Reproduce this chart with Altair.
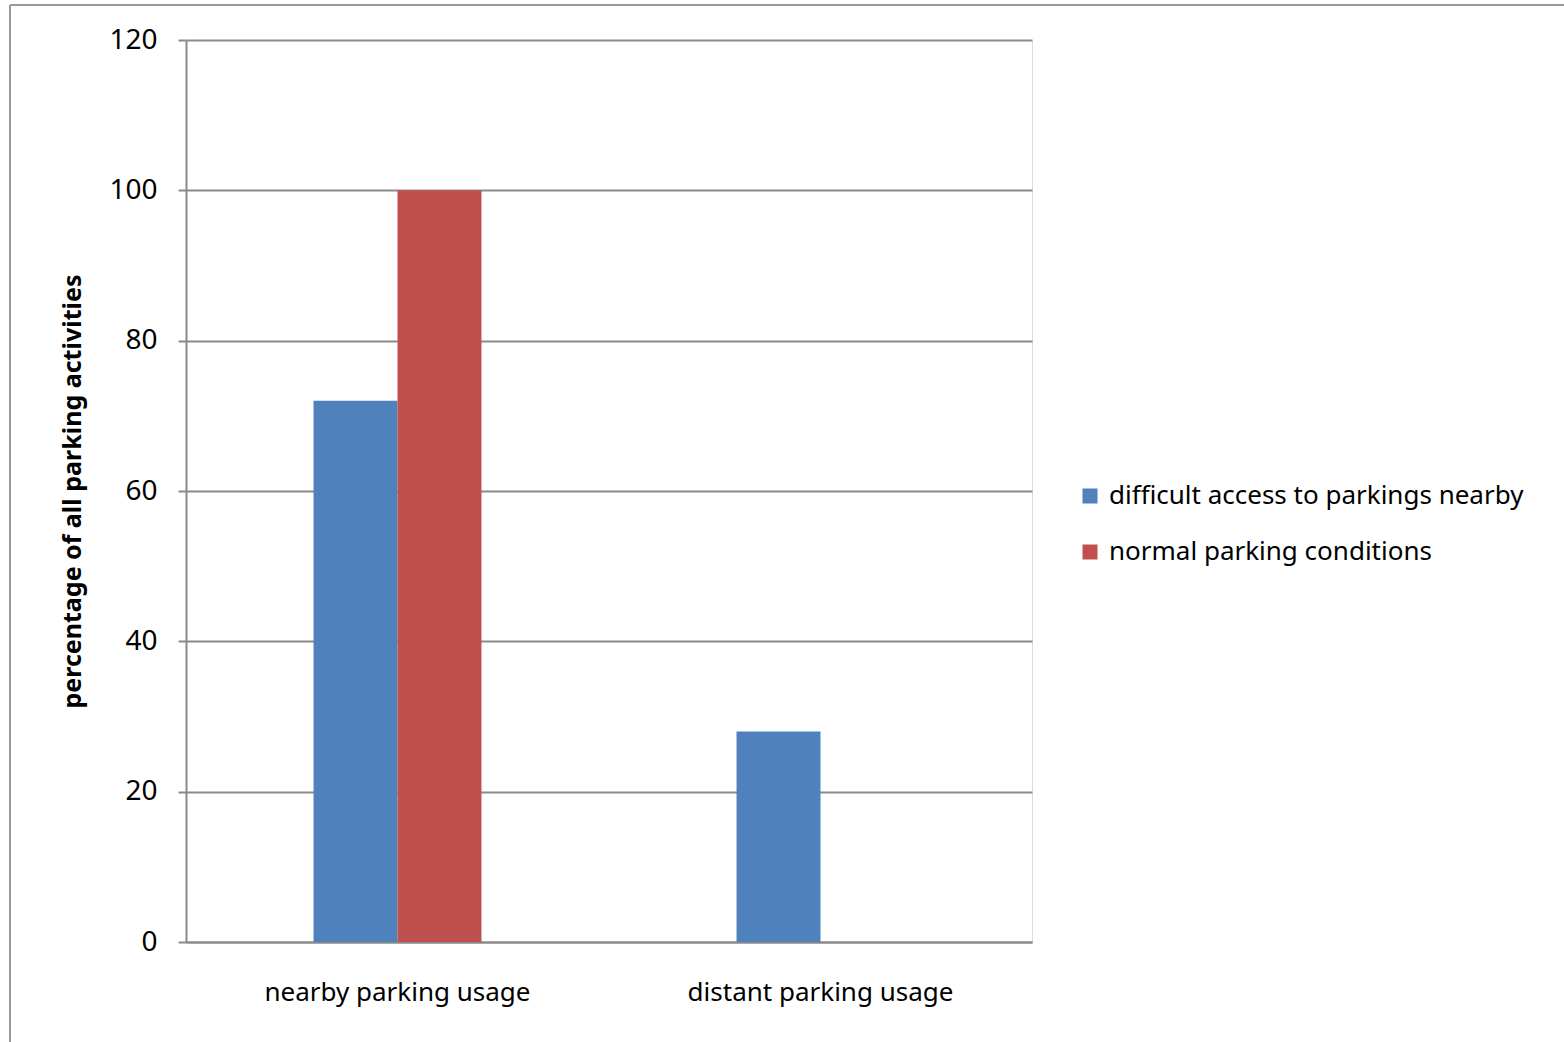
import altair as alt
import pandas as pd

categories = ["nearby parking usage", "distant parking usage"]
series = ["difficult access to parkings nearby", "normal parking conditions"]
difficult_values = [72, 28]
normal_values = [100, 0]
y_ticks = [0, 20, 40, 60, 80, 100, 120]
colors = ["#4F81BD", "#C0504D"]

rows = []
for c, v in zip(categories, difficult_values):
    rows.append({"category": c, "series": series[0], "value": v})
for c, v in zip(categories, normal_values):
    rows.append({"category": c, "series": series[1], "value": v})
df = pd.DataFrame(rows)

FONT = "Noto Sans"
GRID = "#8a8a8a"

bars = alt.Chart(df).mark_bar().encode(
    x=alt.X("category:N", sort=categories,
            scale=alt.Scale(paddingInner=0.603, paddingOuter=0.3015),
            axis=alt.Axis(title=None, labelAngle=0, ticks=False, tickSize=0,
                          labelPadding=37, labelFontSize=26, labelFont=FONT,
                          labelLimit=500, labelColor="#000",
                          domainColor=GRID, domainWidth=2, grid=False)),
    xOffset=alt.XOffset("series:N", sort=series,
                        scale=alt.Scale(paddingInner=0, paddingOuter=0)),
    y=alt.Y("value:Q", scale=alt.Scale(domain=[0, 120], nice=False),
            axis=alt.Axis(values=y_ticks, title="percentage of all parking activities",
                          titleFont=FONT, titleFontSize=25, titleFontWeight="bold",
                          titleColor="#000", titleX=-114, titleY=451,
                          titleAngle=270, titleAlign="center", titleBaseline="middle",
                          titleLimit=600,
                          labelFont=FONT, labelFontSize=28, labelColor="#000",
                          labelPadding=21, tickSize=8, tickColor=GRID, tickWidth=2,
                          domainColor=GRID, domainWidth=2,
                          gridColor=GRID, gridWidth=2)),
    color=alt.Color("series:N", sort=series,
                    scale=alt.Scale(domain=series, range=colors),
                    legend=alt.Legend(title=None, orient="none", legendX=891, legendY=443,
                                      symbolType="square", symbolSize=225,
                                      symbolStrokeWidth=0, labelFont=FONT,
                                      labelFontSize=26, labelColor="#000",
                                      labelLimit=600,
                                      rowPadding=30, labelOffset=6)),
)

frame_left = alt.Chart(df).mark_rule(color="#999", strokeWidth=2).encode(
    x=alt.value(-176), y=alt.value(-35), y2=alt.value(1200))
frame_top = alt.Chart(df).mark_rule(color="#999", strokeWidth=2).encode(
    x=alt.value(-176), x2=alt.value(1500), y=alt.value(-35))

chart = alt.layer(bars, frame_left, frame_top).properties(
    width=846, height=902,
    autosize=alt.AutoSizeParams(type="none"),
    padding={"left": 186, "top": 40, "right": 532, "bottom": 100},
).configure_view(stroke="transparent", strokeWidth=0, strokeOpacity=0).configure(background="white")

chart.save("out.html", embed_options={"renderer": "svg", "actions": False})
